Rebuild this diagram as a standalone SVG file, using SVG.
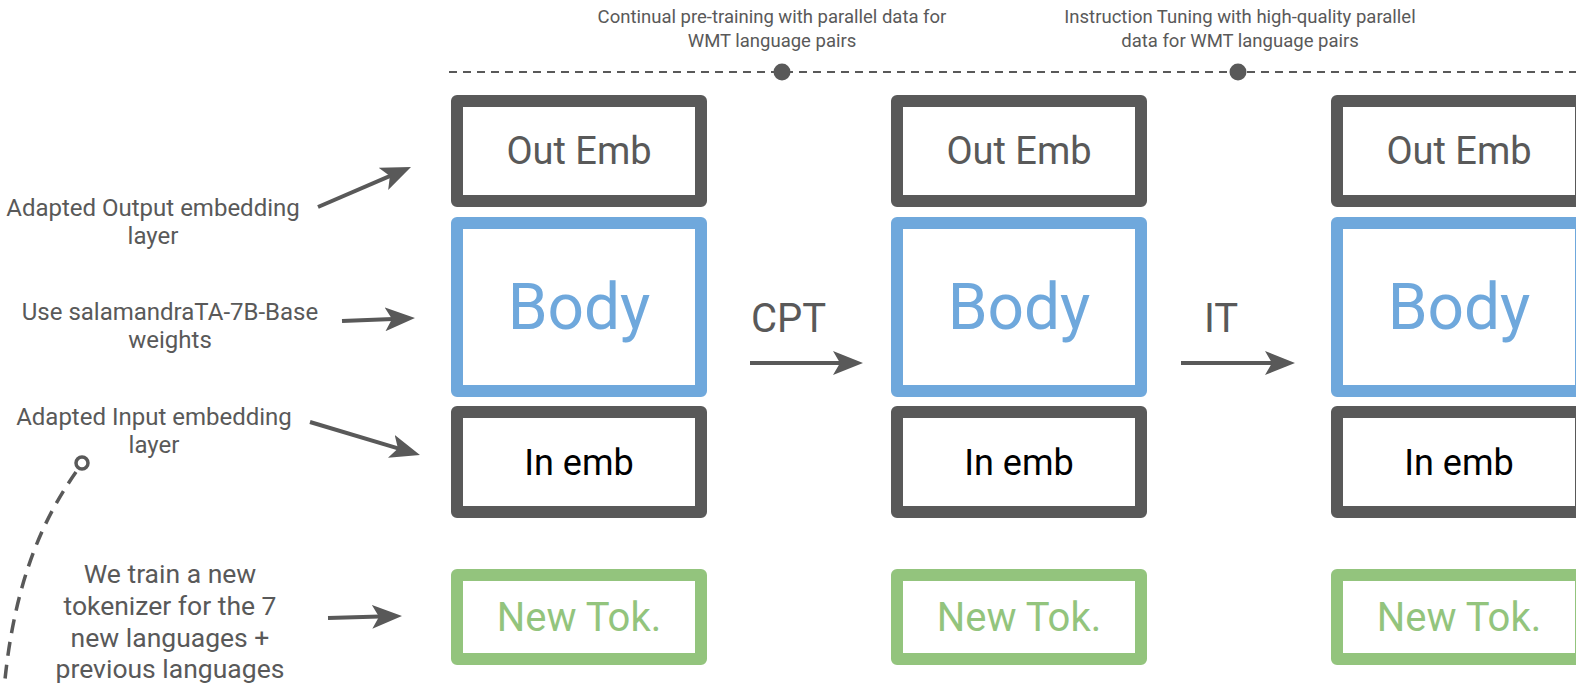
<svg xmlns="http://www.w3.org/2000/svg" width="1576" height="684" viewBox="0 0 1576 684">
  <style>
    text { font-family: Roboto, "Liberation Sans", sans-serif; text-anchor: middle; }
    .lbl { font-size: 24px; fill: #595959; }
    .lblb { font-size: 26.5px; fill: #595959; }
    .top { font-size: 18.5px; fill: #595959; }
    .step { font-size: 40px; fill: #595959; text-anchor: start; }
    .grey { fill: #ffffff; stroke: #595959; stroke-width: 12; stroke-linejoin: round; }
    .blue { fill: #ffffff; stroke: #6fa8dc; stroke-width: 12; stroke-linejoin: round; }
    .green { fill: #ffffff; stroke: #93c47d; stroke-width: 12; stroke-linejoin: round; }
    .t-out { font-size: 38px; fill: #595959; }
    .t-body { font-size: 64px; fill: #6fa8dc; }
    .t-in { font-size: 36px; fill: #000000; }
    .t-tok { font-size: 40px; fill: #93c47d; }
    .arr { fill: none; stroke: #595959; stroke-width: 4; marker-end: url(#ah); }
  </style>
  <defs>
    <marker id="ah" viewBox="0 0 30 24" refX="8" refY="12" markerWidth="30" markerHeight="24" markerUnits="userSpaceOnUse" orient="auto">
      <path d="M0,0 L30,12 L0,24 L7,12 Z" fill="#595959"/>
    </marker>
  </defs>

  <!-- timeline -->
  <g id="timeline">
    <line x1="449" y1="72" x2="1576" y2="72" stroke="#595959" stroke-width="2" stroke-dasharray="8 6"/>
    <circle cx="782" cy="72" r="8.5" fill="#595959"/>
    <circle cx="1238" cy="72" r="8.5" fill="#595959"/>
    <text class="top" x="772" y="23">Continual pre-training with parallel data for</text>
    <text class="top" x="772" y="47">WMT language pairs</text>
    <text class="top" x="1240" y="23">Instruction Tuning with high-quality parallel</text>
    <text class="top" x="1240" y="47">data for WMT language pairs</text>
  </g>

  <!-- left labels -->
  <g id="label-out">
    <text class="lbl" x="153" y="216">Adapted Output embedding</text>
    <text class="lbl" x="153" y="244">layer</text>
  </g>
  <g id="label-body">
    <text class="lbl" x="170" y="320">Use salamandraTA-7B-Base</text>
    <text class="lbl" x="170" y="348">weights</text>
  </g>
  <g id="label-in">
    <text class="lbl" x="154" y="425">Adapted Input embedding</text>
    <text class="lbl" x="154" y="453">layer</text>
  </g>
  <g id="label-tok">
    <text class="lblb" x="170" y="583">We train a new</text>
    <text class="lblb" x="170" y="615">tokenizer for the 7</text>
    <text class="lblb" x="170" y="647">new languages +</text>
    <text class="lblb" x="170" y="678">previous languages</text>
  </g>

  <!-- column 1 -->
  <g id="out1"><rect class="grey" x="457" y="101" width="244" height="100"/><text class="t-out" x="579" y="164">Out Emb</text></g>
  <g id="body1"><rect class="blue" x="457" y="223" width="244" height="168"/><text class="t-body" x="579" y="329">Body</text></g>
  <g id="in1"><rect class="grey" x="457" y="412" width="244" height="100"/><text class="t-in" x="579" y="475">In emb</text></g>
  <g id="tok1"><rect class="green" x="457" y="575" width="244" height="84"/><text class="t-tok" x="579" y="631">New Tok.</text></g>

  <!-- column 2 -->
  <g id="out2"><rect class="grey" x="897" y="101" width="244" height="100"/><text class="t-out" x="1019" y="164">Out Emb</text></g>
  <g id="body2"><rect class="blue" x="897" y="223" width="244" height="168"/><text class="t-body" x="1019" y="329">Body</text></g>
  <g id="in2"><rect class="grey" x="897" y="412" width="244" height="100"/><text class="t-in" x="1019" y="475">In emb</text></g>
  <g id="tok2"><rect class="green" x="897" y="575" width="244" height="84"/><text class="t-tok" x="1019" y="631">New Tok.</text></g>

  <!-- column 3 -->
  <g id="out3"><rect class="grey" x="1337" y="101" width="244" height="100"/><text class="t-out" x="1459" y="164">Out Emb</text></g>
  <g id="body3"><rect class="blue" x="1337" y="223" width="244" height="168"/><text class="t-body" x="1459" y="329">Body</text></g>
  <g id="in3"><rect class="grey" x="1337" y="412" width="244" height="100"/><text class="t-in" x="1459" y="475">In emb</text></g>
  <g id="tok3"><rect class="green" x="1337" y="575" width="244" height="84"/><text class="t-tok" x="1459" y="631">New Tok.</text></g>

  <!-- step labels -->
  <g id="step-cpt"><text class="step" x="751" y="332">CPT</text></g>
  <g id="step-it"><text class="step" x="1204" y="332">IT</text></g>

  <!-- connectors -->
  <g id="connectors">
    <line class="arr" x1="318" y1="207" x2="390.8" y2="175.7"/>
    <line class="arr" x1="342" y1="321" x2="393" y2="318.9"/>
    <line class="arr" x1="310" y1="422" x2="398.9" y2="448.7"/>
    <line class="arr" x1="328" y1="618" x2="380" y2="616.6"/>
    <line class="arr" x1="750" y1="363" x2="841" y2="363"/>
    <line class="arr" x1="1181" y1="363" x2="1273" y2="363"/>
    <path d="M76,472 C48,512 14,575 4,690" fill="none" stroke="#595959" stroke-width="3.5" stroke-dasharray="14 9"/>
    <circle cx="82" cy="463" r="6" fill="#ffffff" stroke="#595959" stroke-width="3.5"/>
  </g>
</svg>
